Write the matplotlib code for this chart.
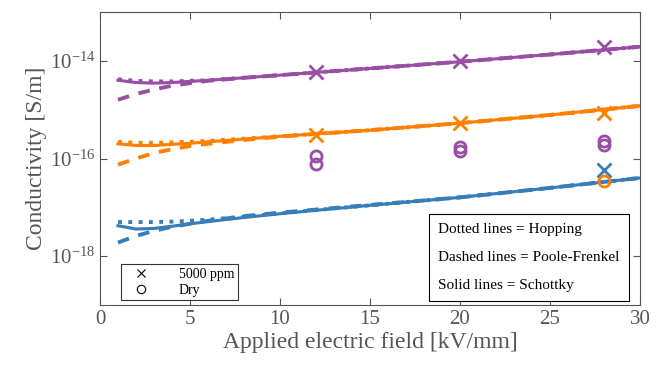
import math
import matplotlib
matplotlib.use('Agg')
import matplotlib.pyplot as plt
from matplotlib.lines import Line2D
from matplotlib.ticker import FixedLocator, FuncFormatter

plt.rcParams['font.family'] = ['Liberation Serif', 'DejaVu Serif']
plt.rcParams['mathtext.default'] = 'regular'

# field values [kV/mm] where the fitted curves were read
field = [1, 2, 3, 4, 5, 6, 8, 10, 12, 15, 20, 25, 30]

# purple series
pur_hop = [4.2e-15, 3.9e-15, 3.8e-15, 3.8e-15, 3.9e-15, 4.0e-15, 4.5e-15, 5.1e-15, 5.8e-15, 7.0e-15, 9.6e-15, 1.35e-14, 1.95e-14]
pur_pf = [1.6e-15, 2.1e-15, 2.6e-15, 3.1e-15, 3.5e-15, 3.9e-15, 4.5e-15, 5.1e-15, 5.8e-15, 7.0e-15, 9.6e-15, 1.35e-14, 1.95e-14]
pur_sch = [4.0e-15, 3.6e-15, 3.5e-15, 3.6e-15, 3.8e-15, 4.0e-15, 4.5e-15, 5.1e-15, 5.8e-15, 7.0e-15, 9.6e-15, 1.35e-14, 1.95e-14]

# orange series
ora_hop = [2.2e-16, 2.1e-16, 2.1e-16, 2.15e-16, 2.2e-16, 2.3e-16, 2.55e-16, 2.85e-16, 3.2e-16, 3.8e-16, 5.3e-16, 7.8e-16, 1.2e-15]
ora_pf = [7.5e-17, 1.0e-16, 1.3e-16, 1.55e-16, 1.8e-16, 2.0e-16, 2.4e-16, 2.8e-16, 3.2e-16, 3.8e-16, 5.3e-16, 7.8e-16, 1.2e-15]
ora_sch = [2.0e-16, 1.85e-16, 1.85e-16, 1.95e-16, 2.05e-16, 2.2e-16, 2.5e-16, 2.85e-16, 3.2e-16, 3.8e-16, 5.3e-16, 7.8e-16, 1.2e-15]

# blue series
blu_hop = [5.0e-18, 5.0e-18, 5.0e-18, 5.1e-18, 5.3e-18, 5.6e-18, 6.4e-18, 7.5e-18, 8.8e-18, 1.1e-17, 1.6e-17, 2.5e-17, 4.0e-17]
blu_pf = [1.9e-18, 2.6e-18, 3.3e-18, 4.0e-18, 4.6e-18, 5.3e-18, 6.6e-18, 7.8e-18, 9.0e-18, 1.12e-17, 1.6e-17, 2.5e-17, 4.0e-17]
blu_sch = [4.2e-18, 3.6e-18, 3.7e-18, 4.1e-18, 4.6e-18, 5.1e-18, 6.2e-18, 7.4e-18, 8.7e-18, 1.1e-17, 1.6e-17, 2.5e-17, 4.0e-17]

# measured points
meas_field = [12, 20, 28]
pur_wet = [6.0e-15, 1.0e-14, 1.9e-14]
ora_wet = [3.0e-16, 5.4e-16, 8.7e-16]
blu_wet_f = [28]
blu_wet = [5.7e-17]
pur_dry_f = [12, 12, 20, 20, 28, 28]
pur_dry = [1.15e-16, 7.9e-17, 1.75e-16, 1.45e-16, 2.3e-16, 1.9e-16]
ora_dry_f = [28]
ora_dry = [3.5e-17]

purple = '#984ea3'
orange = '#ff7f00'
blue = '#377eb8'
grey = '#555555'

fig = plt.figure(figsize=(6.68, 3.76), dpi=100)
ax = fig.add_axes([0.1497, 0.1888, 0.8083, 0.7792])

lw = 2.8
for col, hop, pf, sch in [(blue, blu_hop, blu_pf, blu_sch),
                          (orange, ora_hop, ora_pf, ora_sch),
                          (purple, pur_hop, pur_pf, pur_sch)]:
    ax.semilogy(field, hop, ':', color=col, lw=lw)
    ax.semilogy(field, pf, '--', color=col, lw=lw, dashes=(3, 2.5))
    ax.semilogy(field, sch, '-', color=col, lw=lw * 0.8)

ax.plot(meas_field, pur_wet, 'x', color=purple, ms=10, mew=2)
ax.plot(meas_field, ora_wet, 'x', color=orange, ms=10, mew=2)
ax.plot(blu_wet_f, blu_wet, 'x', color=blue, ms=10, mew=2)
ax.plot(pur_dry_f, pur_dry, 'o', color=purple, mfc='none', ms=8, mew=2)
ax.plot(ora_dry_f, ora_dry, 'o', color=orange, mfc='none', ms=8, mew=2)

ax.set_xlim(0, 30)
ax.set_ylim(1e-19, 1e-13)
ax.set_xticks([0, 5, 10, 15, 20, 25, 30])
ax.yaxis.set_major_locator(FixedLocator([1e-18, 1e-16, 1e-14]))
ax.yaxis.set_minor_locator(FixedLocator([]))
ax.yaxis.set_major_formatter(FuncFormatter(lambda v, p: '10$^{%d}$' % round(math.log10(v))))
ax.tick_params(direction='in', top=True, right=True, length=5, width=0.8,
               colors=grey, labelsize=15, labelcolor=grey)
for s in ax.spines.values():
    s.set_color(grey)
    s.set_linewidth(0.8)

ax.set_xlabel('Applied electric field [kV/mm]', fontsize=17, color=grey, labelpad=2)
ax.set_ylabel('Conductivity [S/m]', fontsize=17, color=grey, labelpad=2)

handles = [Line2D([], [], ls='none', marker='x', color='black', ms=6, mew=0.8),
           Line2D([], [], ls='none', marker='o', color='black', mfc='none', ms=6, mew=0.8)]
leg = ax.legend(handles, ['5000 ppm', 'Dry'], loc='lower left', bbox_to_anchor=(0.039, 0.017),
                borderaxespad=0, fontsize=10, frameon=True, fancybox=False, edgecolor='black',
                handletextpad=1.6, borderpad=0.25, labelspacing=0.2, handlelength=2.3)
leg.get_frame().set_linewidth(0.8)

ax.text(0.626, 0.044, 'Dotted lines = Hopping\n\nDashed lines = Poole-Frenkel\n\nSolid lines = Schottky',
        transform=ax.transAxes, fontsize=11, va='bottom', ha='left', linespacing=1.1,
        bbox=dict(boxstyle='square,pad=0.6', fc='white', ec='black', lw=0.8))

fig.savefig('out.png', dpi=100)
